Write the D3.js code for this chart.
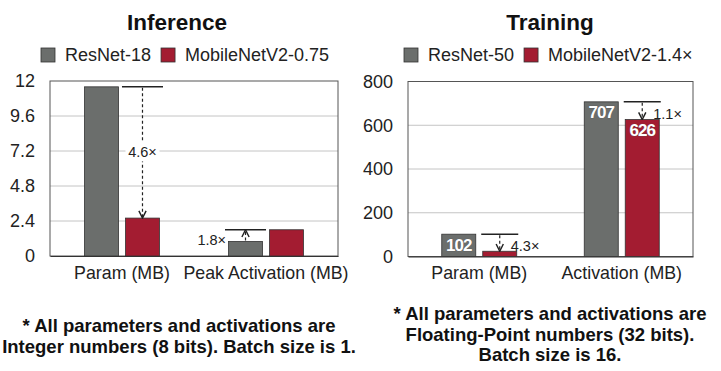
<!DOCTYPE html>
<html>
<head>
<meta charset="utf-8">
<script src="https://cdn.jsdelivr.net/npm/d3@7"></script>
<style>
  body { margin: 0; background: #fff; }
  svg { display: block; font-family: "Liberation Sans", Arial, sans-serif; }
</style>
</head>
<body>
<svg width="721" height="371"></svg>
<script>
// inference chart data
const infTitle = "Inference";
const infCategories = ["Param (MB)", "Peak Activation (MB)"];
const infSeries = ["ResNet-18", "MobileNetV2-0.75"];
const infResNet = [11.6, 1.0];
const infMobile = [2.6, 1.8];
const infTicks = [0, 2.4, 4.8, 7.2, 9.6, 12];
const infTickLabels = ["0", "2.4", "4.8", "7.2", "9.6", "12"];
const infRatios = ["4.6×", "1.8×"];
const infNotes = ["* All parameters and activations are", "Integer numbers (8 bits). Batch size is 1."];

// training chart data
const trainTitle = "Training";
const trainCategories = ["Param (MB)", "Activation (MB)"];
const trainSeries = ["ResNet-50", "MobileNetV2-1.4×"];
const trainResNet = [102, 707];
const trainMobile = [24, 626];
const trainTicks = [0, 200, 400, 600, 800];
const trainTickLabels = ["0", "200", "400", "600", "800"];
const trainRatios = ["4.3×", "1.1×"];
const trainNotes = ["* All parameters and activations are", "Floating-Point numbers (32 bits).", "Batch size is 16."];

const colors = ["#6b6e6c", "#a31c31"];

var svg = d3.select("svg");

svg.append("defs").append("marker")
  .attr("id", "arrow")
  .attr("viewBox", "0 0 10 10")
  .attr("refX", 9).attr("refY", 5)
  .attr("markerWidth", 9).attr("markerHeight", 9)
  .attr("markerUnits", "userSpaceOnUse")
  .attr("orient", "auto")
  .append("path")
  .attr("d", "M1,1 L9,5 L1,9")
  .attr("fill", "none")
  .attr("stroke", "#222")
  .attr("stroke-width", 1.6);

function drawChart(opt) {
  let g = svg.append("g");

  let x0 = d3.scaleBand()
    .domain(opt.categories)
    .range([opt.left, opt.right]);

  let y = d3.scaleLinear()
    .domain([0, d3.max(opt.ticks)])
    .range([opt.bottom, opt.top]);

  let x1 = d3.scaleBand()
    .domain(opt.series)
    .range([-37.5, 37.5])
    .paddingInner(0.17);

  // title
  g.append("text")
    .attr("x", opt.titleX).attr("y", 30)
    .attr("text-anchor", "middle")
    .attr("font-size", 22.5).attr("font-weight", "bold")
    .attr("fill", "#111")
    .text(opt.title);

  // legend
  let lx = opt.legendX;
  opt.series.forEach(function (s, i) {
    g.append("rect")
      .attr("x", lx).attr("y", 48)
      .attr("width", 14).attr("height", 14)
      .attr("fill", colors[i]).attr("stroke", "#333").attr("stroke-width", 0.8);
    let t = g.append("text")
      .attr("x", lx + 24).attr("y", 61)
      .attr("font-size", 18).attr("fill", "#222")
      .text(s);
    lx = lx + 24 + t.node().getComputedTextLength() + 10;
  });

  // grid
  g.selectAll(".grid")
    .data(opt.ticks.filter(function (d) { return d > 0 && d < d3.max(opt.ticks); }))
    .enter().append("line")
    .attr("x1", opt.left).attr("x2", opt.right)
    .attr("y1", function (d) { return y(d); })
    .attr("y2", function (d) { return y(d); })
    .attr("stroke", "#c4c4c4").attr("stroke-width", 1);

  // frame
  g.append("rect")
    .attr("x", opt.left).attr("y", opt.top)
    .attr("width", opt.right - opt.left).attr("height", opt.bottom - opt.top)
    .attr("fill", "none").attr("stroke", "#555").attr("stroke-width", 1);

  // y axis
  let ya = g.append("g")
    .attr("transform", "translate(" + opt.left + ",0)")
    .call(d3.axisLeft(y)
      .tickValues(opt.ticks)
      .tickFormat(function (d, i) { return opt.tickLabels[i]; })
      .tickSize(0)
      .tickPadding(15));
  ya.select(".domain").remove();
  ya.selectAll("text")
    .attr("font-size", 18).attr("font-family", "Liberation Sans, Arial, sans-serif")
    .attr("fill", "#222");

  // x axis
  let xa = g.append("g")
    .attr("transform", "translate(0," + opt.bottom + ")")
    .call(d3.axisBottom(x0).tickSize(0).tickPadding(10));
  xa.select(".domain").attr("stroke", "#333").attr("stroke-width", 1.2);
  xa.selectAll("text")
    .attr("font-size", 17.8).attr("font-family", "Liberation Sans, Arial, sans-serif")
    .attr("fill", "#222");

  // bars
  let rows = opt.categories.map(function (c, i) {
    return { cat: c, vals: [opt.resnet[i], opt.mobile[i]] };
  });

  let grp = g.selectAll(".grp")
    .data(rows)
    .enter().append("g")
    .attr("transform", function (d) { return "translate(" + (x0(d.cat) + x0.bandwidth() / 2) + ",0)"; });

  grp.selectAll("rect")
    .data(function (d) { return d.vals.map(function (v, i) { return { s: opt.series[i], v: v, i: i }; }); })
    .enter().append("rect")
    .attr("x", function (d) { return x1(d.s); })
    .attr("y", function (d) { return y(d.v); })
    .attr("width", x1.bandwidth())
    .attr("height", function (d) { return opt.bottom - y(d.v); })
    .attr("fill", function (d) { return colors[d.i]; })
    .attr("stroke", "#333").attr("stroke-width", 0.8);

  if (opt.valueLabels) {
    grp.selectAll(".val")
      .data(function (d) { return d.vals.map(function (v, i) { return { s: opt.series[i], v: v }; }); })
      .enter().filter(function (d) { return d.v > 80; }).append("text")
      .attr("x", function (d) { return x1(d.s) + x1.bandwidth() / 2; })
      .attr("y", function (d) { return y(d.v) + 16.5; })
      .attr("text-anchor", "middle")
      .attr("font-size", 17).attr("font-weight", "bold")
      .attr("letter-spacing", -1)
      .attr("fill", "#fff")
      .attr("stroke", "#555").attr("stroke-width", 0.5)
      .attr("paint-order", "stroke")
      .text(function (d) { return d.v; });
  }

  // ratio annotations
  rows.forEach(function (r, i) {
    let cx = x0(r.cat) + x0.bandwidth() / 2;
    let hi = Math.max(r.vals[0], r.vals[1]);
    let small = r.vals[0] < r.vals[1] ? 0 : 1;
    let bx = cx + x1(opt.series[small]);
    let ax = bx + x1.bandwidth() / 2;
    let yFrom = y(r.vals[0]), yTo = y(r.vals[1]);

    g.append("line")
      .attr("x1", bx - opt.over).attr("x2", bx + x1.bandwidth() + opt.over)
      .attr("y1", y(hi)).attr("y2", y(hi))
      .attr("stroke", "#222").attr("stroke-width", 1.5);

    g.append("line")
      .attr("x1", ax).attr("x2", ax)
      .attr("y1", yFrom + (yTo > yFrom ? 1 : -1)).attr("y2", yTo)
      .attr("stroke", "#222").attr("stroke-width", 1.2)
      .attr("stroke-dasharray", "3,2.5")
      .attr("marker-end", "url(#arrow)");

    let place = opt.labelPlace[i];
    if (place === "middle") {
      let my = (yFrom + yTo) / 2;
      g.append("rect")
        .attr("x", ax - 17).attr("y", my - 11)
        .attr("width", 34).attr("height", 20)
        .attr("fill", "#fff");
    }
    let t = g.append("text")
      .attr("font-size", 14.5).attr("fill", "#222")
      .text(opt.ratios[i]);
    if (place === "middle") {
      t.attr("x", ax).attr("y", (yFrom + yTo) / 2 + 5).attr("text-anchor", "middle");
    } else if (place === "left") {
      t.attr("x", bx - opt.over + 1).attr("y", y(hi) + 15).attr("text-anchor", "end");
    } else {
      t.attr("x", ax + 11).attr("y", y(hi) + 17);
    }
  });

  // notes
  g.append("text")
    .attr("text-anchor", "middle")
    .attr("font-size", 18.5).attr("font-weight", "bold")
    .attr("fill", "#111")
    .selectAll("tspan")
    .data(opt.notes)
    .enter().append("tspan")
    .attr("x", opt.noteX)
    .attr("y", function (d, i) { return opt.noteY + i * 20.7; })
    .text(function (d) { return d; });
}

drawChart({
  title: infTitle, titleX: 177, legendX: 41,
  categories: infCategories, series: infSeries,
  resnet: infResNet, mobile: infMobile,
  ticks: infTicks, tickLabels: infTickLabels, ratios: infRatios,
  labelPlace: ["middle", "left"], over: 3.5, valueLabels: false,
  notes: infNotes, noteX: 179, noteY: 332,
  left: 50, right: 338, top: 81, bottom: 256
});

drawChart({
  title: trainTitle, titleX: 550, legendX: 404,
  categories: trainCategories, series: trainSeries,
  resnet: trainResNet, mobile: trainMobile,
  ticks: trainTicks, tickLabels: trainTickLabels, ratios: trainRatios,
  labelPlace: ["right", "right"], over: 1.5, valueLabels: true,
  notes: trainNotes, noteX: 550, noteY: 320,
  left: 408, right: 693, top: 81.5, bottom: 256.5
});
</script>
</body>
</html>
